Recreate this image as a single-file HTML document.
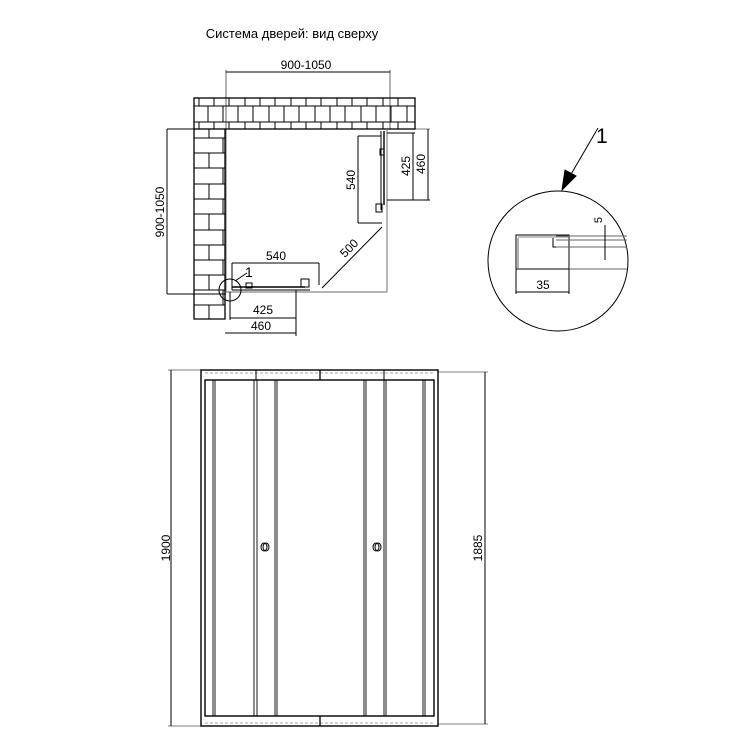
<!DOCTYPE html>
<html><head><style>body{margin:0;background:#fff}svg{display:block}text{font-family:"Liberation Sans","Noto Sans CJK SC",sans-serif;fill:#000}</style></head><body>
<svg width="750" height="750" viewBox="0 0 750 750" xmlns="http://www.w3.org/2000/svg" stroke="#000" fill="none" stroke-width="1">
<text x="292" y="38" font-size="13" text-anchor="middle" stroke="none">Система дверей: вид сверху</text>
<line x1="226" y1="72" x2="390" y2="72"/><line x1="226" y1="70" x2="226" y2="292" stroke-width="0.6"/><line x1="390" y1="70" x2="390" y2="129" stroke-width="0.6"/>
<text x="306" y="69" font-size="12" text-anchor="middle" stroke="none">900-1050</text>
<rect x="194" y="98" width="221" height="31" stroke-width="1.3"/>
<line x1="194" y1="106" x2="415" y2="106"/><line x1="194" y1="122" x2="415" y2="122"/>
<path d="M199 98v8M214 98v8M229 98v8M245 98v8M260 98v8M275 98v8M291 98v8M306 98v8M321 98v8M337 98v8M352 98v8M367 98v8M383 98v8M398 98v8"/>
<path d="M208 106v16M223 106v16M238 106v16M253 106v16M269 106v16M284 106v16M299 106v16M315 106v16M330 106v16M345 106v16M361 106v16M376 106v16M391 106v16M407 106v16"/>
<path d="M199 122v7M214 122v7M229 122v7M245 122v7M260 122v7M275 122v7M291 122v7M306 122v7M321 122v7M337 122v7M352 122v7M367 122v7M383 122v7M398 122v7"/>
<path d="M194 129v190h31V129" stroke-width="1.3"/>
<path d="M194 138h31M194 153h31M194 168h31M194 184h31M194 199h31M194 214h31M194 230h31M194 245h31M194 260h31M194 275h31M194 290h31M194 305h31"/>
<path d="M209 129v9M223 138v15M209 153v15M223 168v16M209 184v15M223 199v15M209 214v16M223 230v15M209 245v15M223 260v15M209 275v15M223 290v15M209 305v14"/>
<line x1="167" y1="129" x2="194" y2="129"/><line x1="167" y1="294" x2="226" y2="294"/><line x1="167" y1="129" x2="167" y2="294"/>
<text transform="translate(164 212) rotate(-90)" font-size="12" text-anchor="middle" stroke="none">900-1050</text>
<line x1="387" y1="129" x2="387" y2="292" stroke="#888" stroke-width="1.2"/>
<line x1="226" y1="292" x2="387" y2="292" stroke="#888" stroke-width="1.2"/>
<line x1="384" y1="131" x2="384" y2="205" stroke-width="1.4"/><line x1="381" y1="131" x2="381" y2="210"/>
<rect x="380" y="149" width="4" height="6"/><rect x="376" y="204" width="6" height="8"/>
<line x1="232" y1="287" x2="305" y2="287" stroke-width="1.4"/><line x1="232" y1="290" x2="310" y2="290"/>
<rect x="246" y="283" width="6" height="5"/><rect x="301" y="279" width="8" height="8"/>
<line x1="358" y1="136" x2="381" y2="136"/><line x1="358" y1="223" x2="382" y2="223"/><line x1="358" y1="136" x2="358" y2="223"/>
<text transform="translate(355 180) rotate(-90)" font-size="12" text-anchor="middle" stroke="none">540</text>
<line x1="387" y1="133" x2="415" y2="133"/><line x1="387" y1="200" x2="430" y2="200"/><line x1="413" y1="133" x2="413" y2="200"/>
<line x1="387" y1="129" x2="430" y2="129" stroke-width="0.6"/><line x1="428" y1="129" x2="428" y2="200"/>
<text transform="translate(410 166) rotate(-90)" font-size="12" text-anchor="middle" stroke="none">425</text>
<text transform="translate(425 164) rotate(-90)" font-size="12" text-anchor="middle" stroke="none">460</text>
<line x1="382" y1="227" x2="322" y2="288"/>
<text transform="translate(352 251) rotate(-45)" font-size="12" text-anchor="middle" stroke="none">500</text>
<line x1="232" y1="263" x2="319" y2="263"/><line x1="232" y1="263" x2="232" y2="290"/><line x1="319" y1="263" x2="319" y2="285"/>
<text x="276" y="260" font-size="12" text-anchor="middle" stroke="none">540</text>
<line x1="230" y1="318" x2="296" y2="318"/><line x1="230" y1="292" x2="230" y2="320"/><line x1="296" y1="290" x2="296" y2="336"/>
<text x="263" y="314" font-size="12" text-anchor="middle" stroke="none">425</text>
<line x1="225" y1="333" x2="296" y2="333"/>
<text x="261" y="330" font-size="12" text-anchor="middle" stroke="none">460</text>
<circle cx="230" cy="290" r="11"/>
<line x1="235" y1="281" x2="247" y2="273"/><text x="245" y="277" font-size="14" stroke="none">1</text>
<circle cx="558" cy="261" r="70"/>
<line x1="598" y1="128" x2="570" y2="176"/>
<polygon points="562,190 565,170 576,176" fill="#000"/>
<text x="596" y="143" font-size="21" stroke="none">1</text>
<path d="M516 235h53v34h-53z"/>
<path d="M518 237h50M518 238v30" stroke-width="0.6"/>
<path d="M553 238v9h15"/>
<line x1="556" y1="236" x2="627" y2="236" stroke="#666"/><line x1="556" y1="240" x2="627" y2="240" stroke="#666"/>
<line x1="556" y1="247" x2="627" y2="247" stroke="#666"/><line x1="569" y1="269" x2="627" y2="269" stroke="#666"/>
<line x1="516" y1="269" x2="516" y2="294"/><line x1="569" y1="269" x2="569" y2="294"/><line x1="516" y1="292" x2="569" y2="292"/>
<text x="543" y="289" font-size="12" text-anchor="middle" stroke="none">35</text>
<line x1="605" y1="225" x2="605" y2="260"/>
<text transform="translate(602 220) rotate(-90)" font-size="11" text-anchor="middle" stroke="none">5</text>
<rect x="201" y="370" width="237" height="356" stroke-width="1.4"/>
<rect x="205" y="380" width="229" height="336" stroke-width="1.4"/>
<line x1="205" y1="373" x2="434" y2="373" stroke="#aaa" stroke-dasharray="3 2"/>
<line x1="205" y1="723" x2="434" y2="723" stroke="#aaa" stroke-dasharray="3 2"/>
<line x1="320" y1="370" x2="320" y2="380" stroke-width="1.3"/><line x1="320" y1="716" x2="320" y2="726" stroke-width="1.3"/>
<line x1="256" y1="370" x2="256" y2="380"/><line x1="384" y1="370" x2="384" y2="380"/>
<path d="M215 380v336M213 380v336M254 380v336M257 380v336M275 380v336M277 380v336M364 380v336M366 380v336M384 380v336M386 380v336M423 380v336M425 380v336" stroke-width="0.9"/>
<ellipse cx="264" cy="547" rx="3" ry="4"/><ellipse cx="266" cy="547" rx="3" ry="4"/>
<ellipse cx="376" cy="547" rx="3" ry="4"/><ellipse cx="378" cy="547" rx="3" ry="4"/>
<line x1="171" y1="370" x2="171" y2="726"/><line x1="168" y1="370" x2="201" y2="370" stroke-width="0.6"/><line x1="168" y1="726" x2="201" y2="726" stroke-width="0.6"/>
<text transform="translate(170 548) rotate(-90)" font-size="12" text-anchor="middle" stroke="none">1900</text>
<line x1="485" y1="372" x2="485" y2="724"/><line x1="438" y1="372" x2="488" y2="372" stroke-width="0.6"/><line x1="438" y1="724" x2="488" y2="724" stroke-width="0.6"/>
<text transform="translate(482 548) rotate(-90)" font-size="12" text-anchor="middle" stroke="none">1885</text>
</svg>
</body></html>
